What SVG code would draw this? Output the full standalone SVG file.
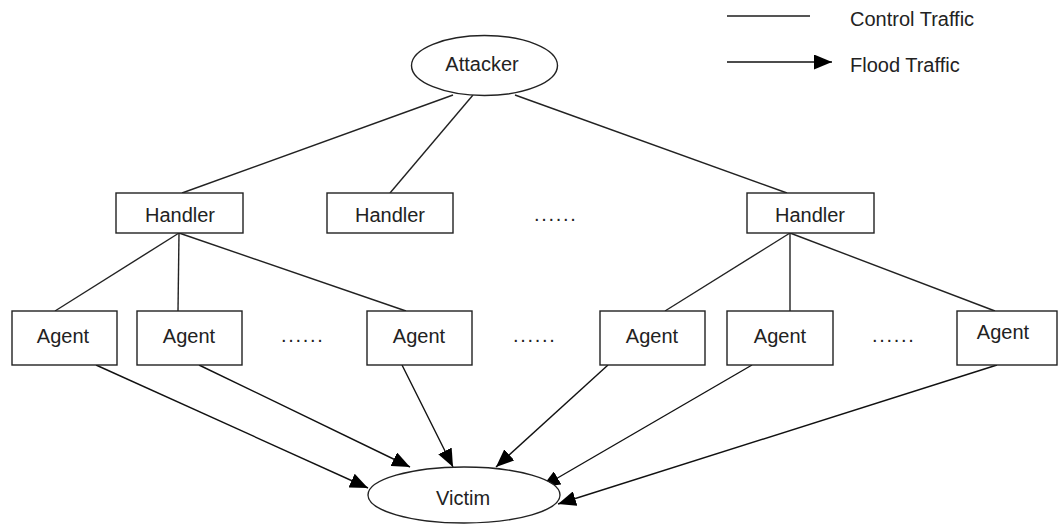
<svg xmlns="http://www.w3.org/2000/svg" width="1060" height="526" viewBox="0 0 1060 526">
<defs>
<marker id="ah" markerUnits="userSpaceOnUse" markerWidth="18" markerHeight="15" refX="18" refY="7.5" orient="auto">
<path d="M0,0 L18,7.5 L0,15 z" fill="#000"/>
</marker>
<style>
.nd{fill:#fff;stroke:#222;stroke-width:1.4}
.t{font-family:"Liberation Sans",Arial,sans-serif;font-size:20px;fill:#222;text-anchor:middle}
.tl{font-family:"Liberation Sans",Arial,sans-serif;font-size:20px;fill:#222}
.dots{font-family:"Liberation Sans",Arial,sans-serif;font-size:20px;fill:#222;letter-spacing:1.7px}
.c{stroke:#222;stroke-width:1.4;fill:none}
.f{stroke:#111;stroke-width:1.4;fill:none;marker-end:url(#ah)}
</style>
</defs>
<rect width="1060" height="526" fill="#fff"/>
<g id="legend">
<line x1="727" y1="16" x2="810" y2="16" stroke="#555" stroke-width="2"/>
<text class="tl" x="850" y="26">Control Traffic</text>
<line x1="727" y1="62" x2="832" y2="62" class="f"/>
<text class="tl" x="850" y="72">Flood Traffic</text>
</g>
<g id="connectors">
<line class="c" x1="453" y1="95" x2="182" y2="193"/>
<line class="c" x1="473" y1="95" x2="390" y2="193"/>
<line class="c" x1="515" y1="95" x2="787" y2="193"/>
<line class="c" x1="179" y1="233" x2="55" y2="311"/>
<line class="c" x1="179" y1="233" x2="178" y2="311"/>
<line class="c" x1="179" y1="233" x2="406" y2="311"/>
<line class="c" x1="790" y1="233" x2="665" y2="311"/>
<line class="c" x1="790" y1="233" x2="790" y2="311"/>
<line class="c" x1="790" y1="233" x2="995" y2="311"/>
<line class="f" x1="96" y1="365" x2="368" y2="488"/>
<line class="f" x1="199" y1="365" x2="410" y2="467"/>
<line class="f" x1="402" y1="365" x2="453" y2="467"/>
<line class="f" x1="608" y1="365" x2="496" y2="467"/>
<line class="f" x1="752" y1="365" x2="542" y2="487"/>
<line class="f" x1="997" y1="365" x2="558" y2="504"/>
</g>
<g id="attacker">
<ellipse class="nd" cx="484.5" cy="65.5" rx="73" ry="30"/>
<text class="t" x="482" y="71">Attacker</text>
</g>
<g id="handler1">
<rect class="nd" x="116" y="193" width="127" height="40"/>
<text class="t" x="180" y="222">Handler</text>
</g>
<g id="handler2">
<rect class="nd" x="327" y="193" width="126" height="40"/>
<text class="t" x="390" y="222">Handler</text>
</g>
<g id="handler-dots">
<text class="dots" x="534" y="221">......</text>
</g>
<g id="handler3">
<rect class="nd" x="747" y="193" width="127" height="40"/>
<text class="t" x="810" y="222">Handler</text>
</g>
<g id="agent1">
<rect class="nd" x="12" y="311" width="105" height="54"/>
<text class="t" x="63" y="343">Agent</text>
</g>
<g id="agent2">
<rect class="nd" x="137" y="311" width="105" height="54"/>
<text class="t" x="189" y="343">Agent</text>
</g>
<g id="agent-dots1">
<text class="dots" x="281" y="342">......</text>
</g>
<g id="agent3">
<rect class="nd" x="367" y="311" width="105" height="54"/>
<text class="t" x="419" y="343">Agent</text>
</g>
<g id="agent-dots2">
<text class="dots" x="513" y="342">......</text>
</g>
<g id="agent4">
<rect class="nd" x="600" y="311" width="105" height="54"/>
<text class="t" x="652" y="343">Agent</text>
</g>
<g id="agent5">
<rect class="nd" x="727" y="311" width="106" height="54"/>
<text class="t" x="780" y="343">Agent</text>
</g>
<g id="agent-dots3">
<text class="dots" x="872" y="342">......</text>
</g>
<g id="agent6">
<rect class="nd" x="957" y="311" width="100" height="54"/>
<text class="t" x="1003" y="339">Agent</text>
</g>
<g id="victim">
<ellipse class="nd" cx="464" cy="495" rx="96" ry="28"/>
<text class="t" x="463" y="505">Victim</text>
</g>
</svg>
